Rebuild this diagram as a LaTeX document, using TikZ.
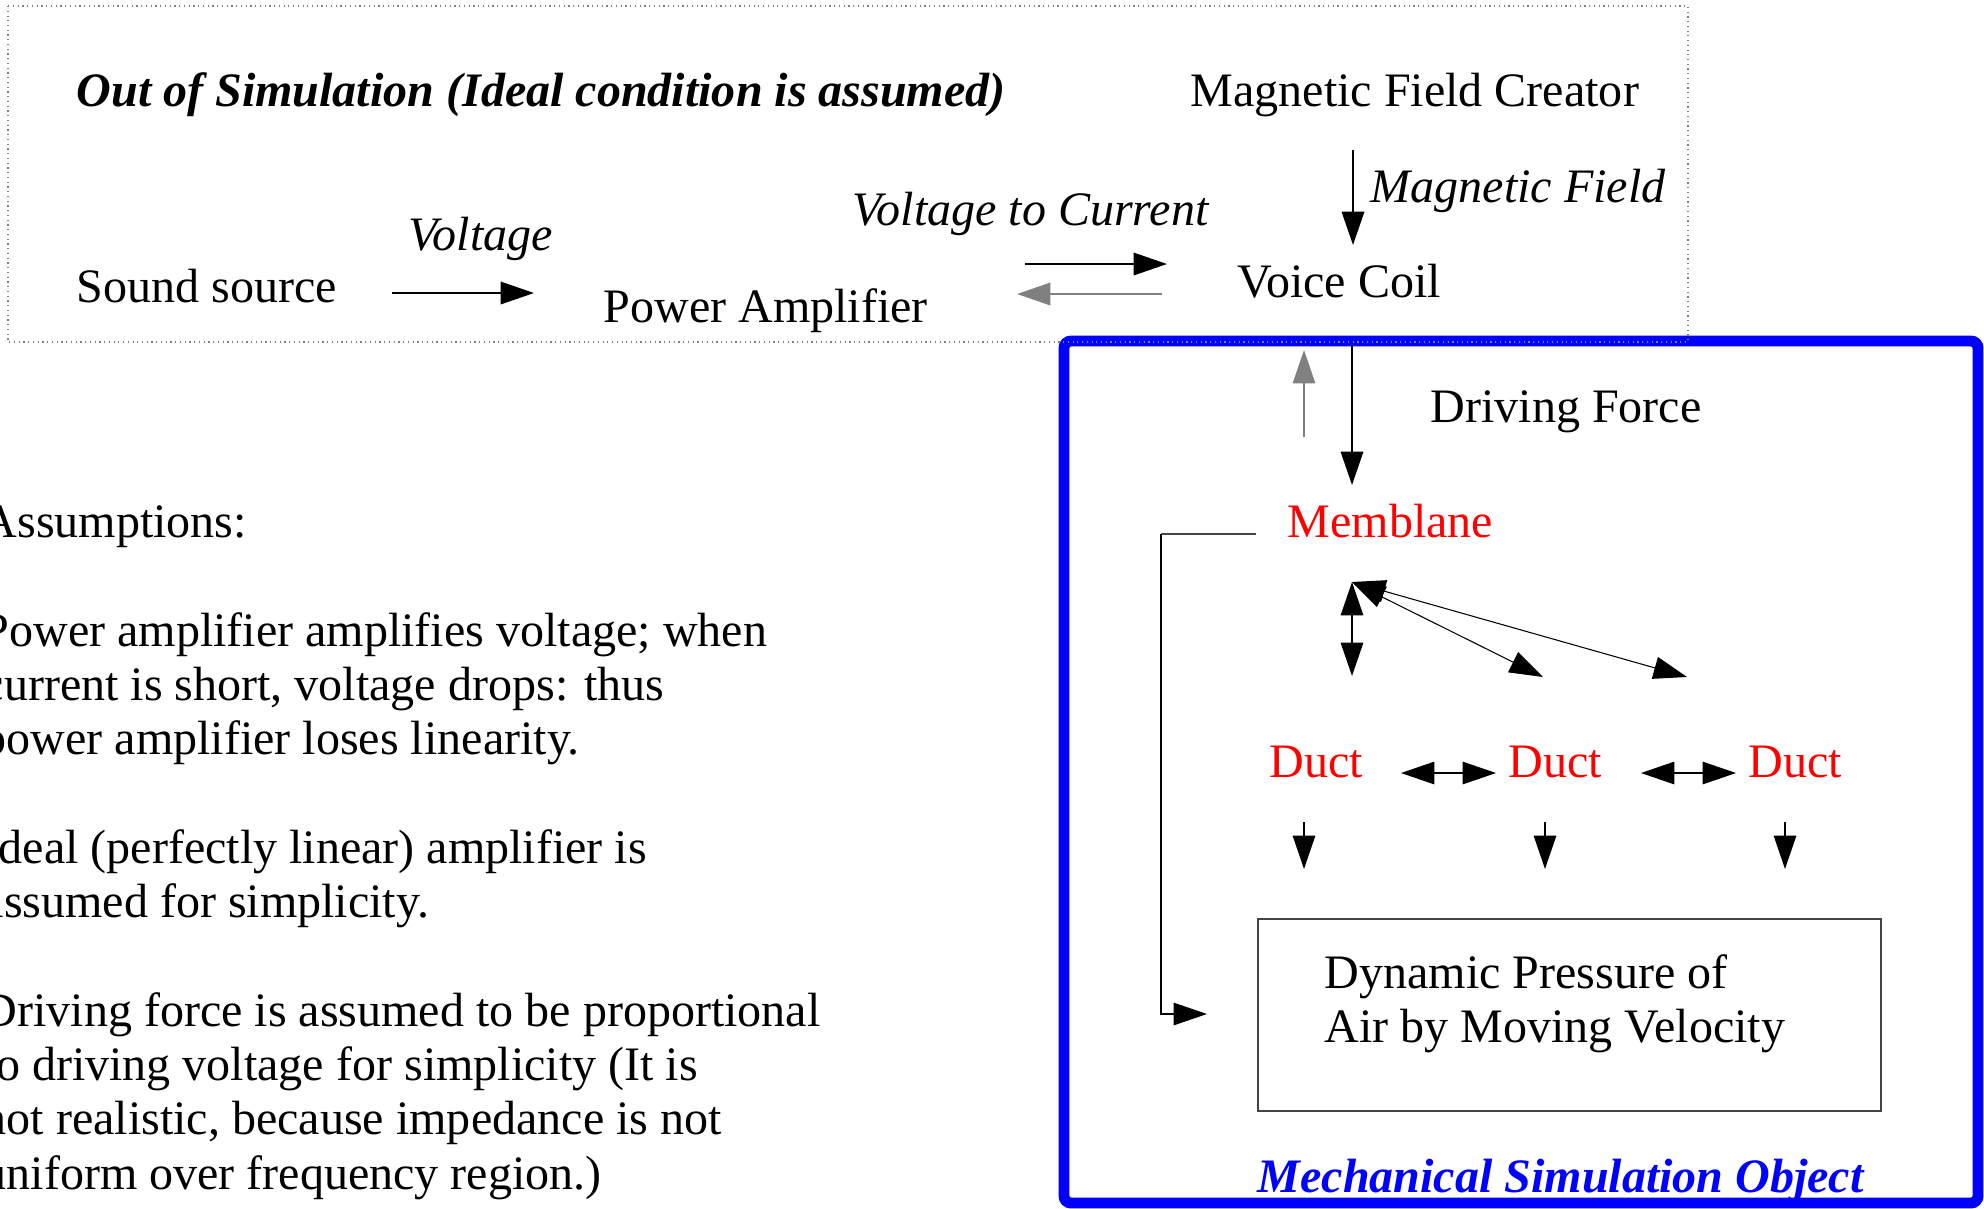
\documentclass[tikz,border=0pt]{standalone}
\usepackage{fontspec}
\setmainfont{Liberation Serif}
\usetikzlibrary{arrows.meta}
\definecolor{simblue}{HTML}{0000FF}
\definecolor{partred}{HTML}{FF0000}
\definecolor{backgrey}{HTML}{808080}
\definecolor{wiregrey}{HTML}{444444}
\newcommand{\figfont}{\fontsize{13.66pt}{15.44pt}\selectfont}

\begin{document}
\begin{tikzpicture}[x=0.01cm,y=-0.01cm,
    txt/.style={inner sep=0pt,anchor=base west,font=\figfont},
    lab/.style={txt,font=\figfont\itshape},
    part/.style={txt,text=partred},
    tip/.style={line width=0.5pt,-{Triangle[length=9.5pt,width=6.4pt]}},
    twotip/.style={line width=0.4pt,{Triangle[length=9.5pt,width=6.4pt]}-{Triangle[length=9.5pt,width=6.4pt]}}]
  \path[use as bounding box] (0,0) rectangle (1984,1208);
  \clip (0,0) rectangle (1984,1208);

  \draw[simblue,line width=3.1pt,rounded corners=2pt] (1064,341) rectangle (1978,1203);
  \draw[backgrey,densely dotted,line width=0.35pt] (8,6) rectangle (1688,342);

  \node[txt,font=\figfont\bfseries\itshape] (title) at (76,106) {Out of Simulation (Ideal condition is assumed)};
  \node[txt] (source) at (76,302) {Sound source};
  \node[txt] (amp) at (603,322) {Power Amplifier};
  \node[txt] (coil) at (1237,297) {Voice Coil};
  \node[txt] (creator) at (1190,106) {Magnetic Field Creator};
  \node[lab] (lvolt) at (408,250) {Voltage};
  \node[lab] (lconv) at (852,225) {Voltage to Current};
  \node[lab] (lfield) at (1370,202) {Magnetic Field};
  \node[txt] (lforce) at (1430,422) {Driving Force};
  \node[part] (memb) at (1287,537) {Memblane};
  \foreach \i/\x in {1/1269,2/1508,3/1748}
    \node[part] (duct\i) at (\x,777) {Duct};
  \node[draw=wiregrey,line width=0.5pt,inner sep=0pt,anchor=north west,minimum width=6.23cm,minimum height=1.92cm] (press) at (1257,918) {};
  \node[txt,anchor=north west,align=left] (presstext) at (1324,954) {Dynamic Pressure of\\Air by Moving Velocity};
  \node[txt,font=\figfont\bfseries\itshape,text=simblue] (simobj) at (1257,1192) {Mechanical Simulation Object};
  \node[txt,anchor=north west,align=left] (notes) at (-18,505) {Assumptions:\\[15.44pt]
    Power amplifier amplifies voltage; when\\current is short, voltage drops: thus\\power amplifier loses linearity.\\[15.44pt]
    Ideal (perfectly linear) amplifier is\\assumed for simplicity.\\[15.44pt]
    Driving force is assumed to be proportional\\to driving voltage for simplicity (It is\\not realistic, because impedance is not\\uniform over frequency region.)};

  \coordinate (srcout) at (392,293);
  \coordinate (ampin) at (534,293);
  \coordinate (ampout) at (1025,264);
  \coordinate (coilin) at (1167,264);
  \coordinate (coilback) at (1162,294);
  \coordinate (ampback) at (1017,294);
  \coordinate (fieldout) at (1353,150);
  \coordinate (fieldin) at (1353,245);
  \coordinate (forceout) at (1352,345);
  \coordinate (membin) at (1352,485);
  \coordinate (membback) at (1304,437);
  \coordinate (coilfeed) at (1304,350);
  \coordinate (membout) at (1352,582);
  \coordinate (membwire) at (1256,534);
  \coordinate (pressin) at (1207,1014);

  \draw[tip] (srcout) -- (ampin);
  \draw[tip] (ampout) -- (coilin);
  \draw[tip,backgrey] (coilback) -- (ampback);
  \draw[tip] (fieldout) -- (fieldin);
  \draw[tip] (forceout) -- (membin);
  \draw[tip,backgrey,line width=0.35pt] (membback) -- (coilfeed);
  \draw[twotip] (membout) -- (1352,676);
  \draw[twotip,line width=0.3pt] (membout) -- (1543,677);
  \draw[twotip,line width=0.3pt] (membout) -- (1687,677);
  \draw[twotip] (1401,773) -- (1496,773);
  \draw[twotip] (1641,773) -- (1736,773);
  \foreach \x in {1304,1545,1785}
    \draw[tip,line width=0.35pt] (\x,822) -- (\x,869);
  \draw[wiregrey,line width=0.35pt] (membwire) -- (1161,534);
  \draw[tip,line width=0.35pt] (1161,534) |- (pressin);
\end{tikzpicture}
\end{document}
